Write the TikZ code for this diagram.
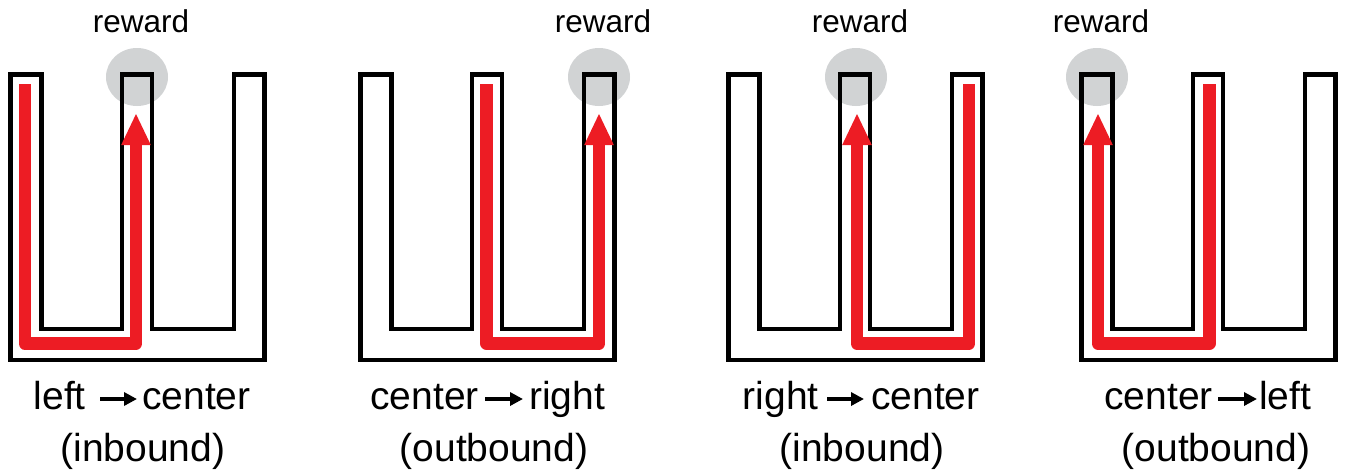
\documentclass[tikz,border=0pt]{standalone}
\usepackage{fontspec}
\setmainfont{Liberation Sans}
\usetikzlibrary{arrows.meta, positioning}
\definecolor{RunRed}{HTML}{ED1C24}
\definecolor{RewardGray}{HTML}{D1D3D4}

\begin{document}
\begin{tikzpicture}[
    x=1pt, y=-1pt,
    % Reusable styles for walls, runs and labels
    maze wall/.style={draw=black, line width=4.3pt, line join=miter},
    run path/.style={draw=RunRed, line width=12.5pt, line join=round,
        -{Triangle[length=32pt, width=27pt]}},
    reward spot/.style={fill=RewardGray, draw=none},
    reward text/.style={font=\fontsize{31.5}{36}\selectfont, anchor=base, inner sep=0pt},
    label text/.style={font=\fontsize{39}{44}\selectfont, inner sep=0pt},
    label arrow/.style={draw=black, line width=4pt, -{Triangle[length=13pt, width=13pt]}}
]
    \useasboundingbox (0,0) rectangle (1347,475);

    % Reward zones (gray spot + caption), one per maze
    \foreach \rx [count=\i] in {137, 599, 856, 1097} {
        \fill[reward spot] (\rx,77) ellipse [x radius=31, y radius=29];
        \node[reward text] (rw\i) at (\rx+4,32) {reward};
    }

    % W-shaped maze outline, repeated for the four panels
    \foreach \dx in {0, 350, 718, 1071}
        \draw[maze wall, shift={(\dx,0)}]
            (10.5,74.5) -- (41.5,74.5) -- (41.5,329) -- (122,329) -- (122,74.5)
            -- (152,74.5) -- (152,329) -- (234,329) -- (234,74.5) -- (264.5,74.5)
            -- (264.5,360) -- (10.5,360) -- cycle;

    % -------------------------
    % Panel 1: left -> center
    % -------------------------
    \begin{scope}
        \draw[run path] (24.8,84) -- (24.8,343.5) -- (136,343.5) -- (136,113);
        \node[label text, anchor=base east] (from1) at (86,409) {left};
        \node[label text, anchor=base west] (to1) at (142,409) {center};
        \draw[label arrow] ([shift={(14,-10)}]from1.base east) -- ([shift={(-5,-10)}]to1.base west);
        \node[label text, anchor=base] (dir1) at (143,461) {(inbound)};
    \end{scope}

    % -------------------------
    % Panel 2: center -> right
    % -------------------------
    \begin{scope}[shift={(350,0)}]
        \draw[run path] (136.5,84) -- (136.5,343.5) -- (249,343.5) -- (249,113);
        \node[label text, anchor=base east] (from2) at (129,409) {center};
        \node[label text, anchor=base west] (to2) at (179,409) {right};
        \draw[label arrow] ([shift={(6,-10)}]from2.base east) -- ([shift={(-6,-10)}]to2.base west);
        \node[label text, anchor=base] (dir2) at (144,461) {(outbound)};
    \end{scope}

    % -------------------------
    % Panel 3: right -> center
    % -------------------------
    \begin{scope}[shift={(718,0)}]
        \draw[run path] (251,84) -- (251,343.5) -- (139,343.5) -- (139,113);
        \node[label text, anchor=base east] (from3) at (101,409) {right};
        \node[label text, anchor=base west] (to3) at (153,409) {center};
        \draw[label arrow] ([shift={(8,-10)}]from3.base east) -- ([shift={(-7,-10)}]to3.base west);
        \node[label text, anchor=base] (dir3) at (144,461) {(inbound)};
    \end{scope}

    % -------------------------
    % Panel 4: center -> left
    % -------------------------
    \begin{scope}[shift={(1071,0)}]
        \draw[run path] (138.5,84) -- (138.5,343.5) -- (27,343.5) -- (27,113);
        \node[label text, anchor=base east] (from4) at (142,409) {center};
        \node[label text, anchor=base west] (to4) at (188,409) {left};
        \draw[label arrow] ([shift={(5,-10)}]from4.base east) -- ([shift={(-2,-10)}]to4.base west);
        \node[label text, anchor=base] (dir4) at (145,461) {(outbound)};
    \end{scope}

\end{tikzpicture}
\end{document}
